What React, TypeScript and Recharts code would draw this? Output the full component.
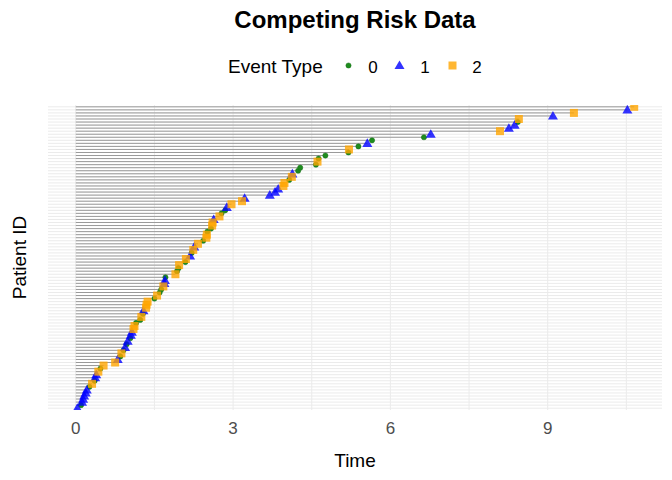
import {
  CartesianGrid,
  ReferenceLine,
  Scatter,
  ScatterChart,
  XAxis,
  YAxis,
} from "recharts";

// follow-up time per patient, sorted ascending (patient rank 1 at the bottom)
const times = [
  0.03, 0.1, 0.12, 0.14, 0.16, 0.19, 0.21, 0.26, 0.31, 0.36,
  0.37, 0.39, 0.43, 0.47, 0.53, 0.75, 0.8, 0.85, 0.87, 0.91,
  0.94, 0.97, 0.99, 1.04, 1.05, 1.07, 1.1, 1.12, 1.15, 1.23,
  1.25, 1.28, 1.29, 1.34, 1.35, 1.37, 1.5, 1.55, 1.6, 1.63,
  1.67, 1.69, 1.7, 1.71, 1.9, 1.93, 1.96, 1.97, 2.09, 2.1,
  2.18, 2.21, 2.24, 2.26, 2.33, 2.43, 2.49, 2.5, 2.51, 2.58,
  2.6, 2.61, 2.63, 2.74, 2.78, 2.85, 2.88, 2.97, 3.17, 3.22,
  3.7, 3.8, 3.86, 3.96, 3.98, 4.07, 4.12, 4.13, 4.24, 4.28,
  4.58, 4.61, 4.63, 4.76, 5.2, 5.21, 5.39, 5.56, 5.65, 6.64,
  6.77, 8.09, 8.26, 8.37, 8.43, 8.45, 9.1, 9.5, 10.52, 10.65,
];

// event type per patient, same order as times
const events = [
  1, 0, 1, 1, 1, 1, 1, 0, 2, 0,
  1, 1, 2, 0, 2, 2, 1, 0, 2, 0,
  1, 0, 1, 0, 1, 1, 2, 2, 0, 0,
  2, 0, 1, 2, 2, 2, 0, 2, 0, 0,
  2, 1, 1, 0, 2, 0, 0, 2, 0, 2,
  1, 0, 2, 1, 2, 0, 2, 2, 0, 0,
  2, 2, 1, 2, 0, 0, 1, 2, 2, 1,
  1, 1, 1, 2, 2, 0, 2, 1, 0, 0,
  0, 2, 0, 0, 0, 2, 0, 1, 0, 0,
  1, 2, 1, 1, 0, 2, 1, 2, 1, 2,
];

const eventTypes = [0, 1, 2];
const xTicks = [0, 3, 6, 9];
const xGrid = [0, 1.5, 3, 4.5, 6, 7.5, 9, 10.5];

const rows = times.map((time, i) => ({ rank: i + 1, time, event: events[i] }));
const rankValues = rows.map((r) => r.rank);

const FONT = "'Liberation Sans', Arial, sans-serif";
const COLORS: Record<number, string> = { 0: "#1E8C1E", 1: "#0000FF", 2: "#FFA500" };

function Dot({ cx, cy }: { cx?: number; cy?: number }) {
  if (cx == null || cy == null) return null;
  return (
    <circle cx={cx} cy={cy} r={2.6} fill={COLORS[0]} stroke="#1A701A" strokeWidth={0.5} />
  );
}

function Tri({ cx, cy }: { cx?: number; cy?: number }) {
  if (cx == null || cy == null) return null;
  return (
    <polygon
      points={`${cx},${cy - 5} ${cx - 5},${cy + 3.6} ${cx + 5},${cy + 3.6}`}
      fill={COLORS[1]}
      fillOpacity={0.8}
    />
  );
}

function Sq({ cx, cy }: { cx?: number; cy?: number }) {
  if (cx == null || cy == null) return null;
  return <rect x={cx - 4} y={cy - 4} width={8} height={8} fill={COLORS[2]} fillOpacity={0.8} />;
}

const shapes: Record<number, (p: any) => any> = { 0: Dot, 1: Tri, 2: Sq };

function Overlay() {
  const labelX = [373, 425, 477];
  return (
    <svg
      width={672}
      height={480}
      style={{ position: "absolute", left: 0, top: 0, pointerEvents: "none", fontFamily: FONT }}
    >
      <text x={355} y={28} textAnchor="middle" fontSize={24} fontWeight="bold" fill="#000">
        Competing Risk Data
      </text>
      <text x={228} y={72.5} fontSize={19} fill="#000">
        Event Type
      </text>
      <Dot cx={348.5} cy={65.5} />
      <Tri cx={399.5} cy={65.5} />
      <Sq cx={452.5} cy={65.5} />
      {eventTypes.map((e, i) => (
        <text key={e} x={labelX[i]} y={72.5} textAnchor="middle" fontSize={17} fill="#000">
          {e}
        </text>
      ))}
      <text x={355} y={467} textAnchor="middle" fontSize={19} fill="#000">
        Time
      </text>
      <text
        transform="translate(26, 257.5) rotate(-90)"
        textAnchor="middle"
        fontSize={19}
        fill="#000"
      >
        Patient ID
      </text>
    </svg>
  );
}

export default function App() {
  return (
    <div style={{ position: "absolute", left: 0, top: 0, width: 672, height: 480, background: "#fff" }}>
      <ScatterChart
        width={672}
        height={480}
        margin={{ top: 105, right: 10, bottom: 0, left: 48 }}
        style={{ fontFamily: FONT }}
      >
        <CartesianGrid
          stroke="#EBEBEB"
          strokeWidth={1}
          horizontalValues={rankValues}
          verticalValues={xGrid}
        />
        <XAxis
          type="number"
          dataKey="time"
          domain={[-0.53, 11.18]}
          allowDataOverflow
          ticks={xTicks}
          axisLine={false}
          tickLine={false}
          tickMargin={6}
          height={70}
          tick={{ fontSize: 17, fill: "#4D4D4D" }}
        />
        <YAxis
          type="number"
          dataKey="rank"
          domain={[0.4, 100.6]}
          ticks={rankValues}
          interval={0}
          allowDataOverflow
          hide
        />
        {rows.map((r) => (
          <ReferenceLine
            key={r.rank}
            segment={[
              { x: 0, y: r.rank },
              { x: r.time, y: r.rank },
            ]}
            stroke="#999999"
            strokeWidth={1}
          />
        ))}
        {eventTypes.map((e) => (
          <Scatter
            key={e}
            name={String(e)}
            data={rows.filter((r) => r.event === e)}
            shape={shapes[e]}
            isAnimationActive={false}
          />
        ))}
      </ScatterChart>
      <Overlay />
    </div>
  );
}
